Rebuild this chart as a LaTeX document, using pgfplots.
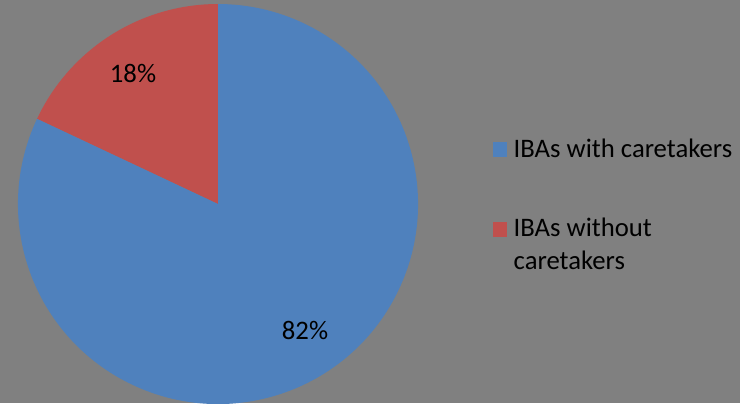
\documentclass[border=0pt]{standalone}
\usepackage{pgfplots}
\usepackage{pgfplotstable}
\pgfplotsset{compat=1.18}
\usepackage{fontspec}
\setmainfont{Carlito}
\definecolor{bg}{HTML}{808080}
\definecolor{sblue}{HTML}{4F81BD}
\definecolor{sred}{HTML}{C0504D}
\pgfplotstableread{
label value
with 82
without 18
}\piedata
\pgfplotstablegetelem{0}{value}\of\piedata \let\vwith\pgfplotsretval
\pgfplotstablegetelem{1}{value}\of\piedata \let\vwithout\pgfplotsretval
\pgfmathsetmacro{\aone}{90}
\pgfmathsetmacro{\atwo}{90+\vwithout*3.6}
\pgfmathsetmacro{\athree}{\atwo+\vwith*3.6}
\begin{document}
\begin{tikzpicture}
\begin{axis}[
  width=7.4cm, height=4.03cm, scale only axis,
  xmin=0, xmax=740, ymin=0, ymax=403,
  axis lines=none, ticks=none,
  axis background/.style={fill=bg},
  clip=true,
]
\addplot[draw=none] coordinates {(0,0) (740,403)};
\fill[sred] (axis cs:218,199) -- ++(\aone:2cm) arc[start angle=\aone, end angle=\atwo, radius=2cm] -- cycle;
\fill[sblue] (axis cs:218,199) -- ++(\atwo:2cm) arc[start angle=\atwo, end angle=\athree, radius=2cm] -- cycle;
\node[font=\fontsize{7.6}{9}\selectfont, text=black] at (axis cs:133,330) {\vwithout\%};
\node[font=\fontsize{7.6}{9}\selectfont, text=black] at (axis cs:305,73) {\vwith\%};
\fill[sblue] (axis cs:493,246) rectangle (axis cs:507,261);
\fill[sred] (axis cs:493,166) rectangle (axis cs:507,181);
\node[anchor=base west, inner sep=0pt, font=\fontsize{7.6}{9.4}\selectfont, text=black] at (axis cs:513,246) {IBAs with caretakers};
\node[anchor=base west, inner sep=0pt, font=\fontsize{7.6}{9.4}\selectfont, text=black] at (axis cs:513,167) {IBAs without};
\node[anchor=base west, inner sep=0pt, font=\fontsize{7.6}{9.4}\selectfont, text=black] at (axis cs:513,134) {caretakers};
\end{axis}
\end{tikzpicture}
\end{document}
